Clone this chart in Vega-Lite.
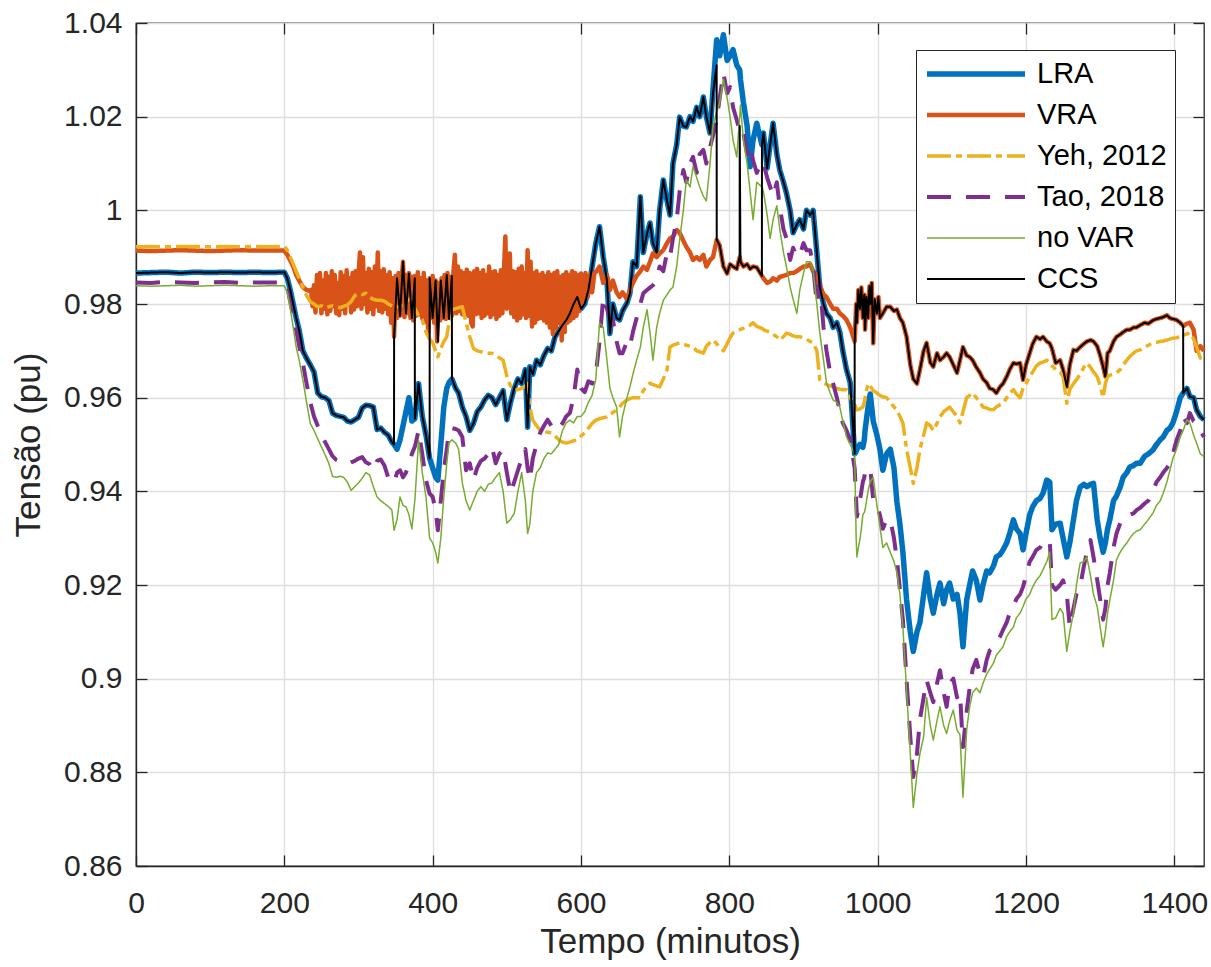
{
"$schema":"https://vega.github.io/schema/vega-lite/v6.json",
"width":1068,"height":843,
"autosize":{"type":"none"},
"padding":{"left":136,"top":23,"right":7,"bottom":101},
"background":"white",
"config":{
 "font":"Liberation Sans",
 "view":{"stroke":"#262626","strokeWidth":1.3},
 "axis":{"domainColor":"#262626","domainWidth":1.3,"tickColor":"#262626","tickWidth":1.3,"tickSize":-11,"labelColor":"#262626","labelFontSize":30,"labelFont":"Liberation Sans","labelFlush":false,"titleColor":"#262626","titleFontSize":35,"titleFont":"Liberation Sans","titleFontWeight":"normal","gridColor":"#dedede","gridWidth":1.3}
},
"datasets":{
"main":[
{"t":0,"L":0.9866,"Y":0.9922,"T":0.9846,"N":0.9839,"C":0.9866},
{"t":20,"L":0.9867,"Y":0.9923,"T":0.9845,"N":0.9838,"C":0.9867},
{"t":40,"L":0.9868,"Y":0.9922,"T":0.9847,"N":0.9839,"C":0.9868},
{"t":60,"L":0.9866,"Y":0.9923,"T":0.9846,"N":0.9840,"C":0.9866},
{"t":80,"L":0.9868,"Y":0.9923,"T":0.9845,"N":0.9838,"C":0.9868},
{"t":100,"L":0.9867,"Y":0.9922,"T":0.9846,"N":0.9839,"C":0.9867},
{"t":120,"L":0.9868,"Y":0.9923,"T":0.9847,"N":0.9840,"C":0.9868},
{"t":140,"L":0.9867,"Y":0.9922,"T":0.9845,"N":0.9839,"C":0.9867},
{"t":160,"L":0.9868,"Y":0.9923,"T":0.9846,"N":0.9838,"C":0.9868},
{"t":180,"L":0.9867,"Y":0.9922,"T":0.9846,"N":0.9839,"C":0.9867},
{"t":200,"L":0.9868,"Y":0.9923,"T":0.9846,"N":0.9839,"C":0.9868},
{"t":204,"L":0.9855,"Y":0.9915,"T":0.9835,"N":0.9825,"C":0.9855},
{"t":208,"L":0.9830,"Y":0.9900,"T":0.9805,"N":0.9790,"C":0.9830},
{"t":212,"L":0.9800,"Y":0.9885,"T":0.9775,"N":0.9750,"C":0.9800},
{"t":216,"L":0.9770,"Y":0.9870,"T":0.9744,"N":0.9708,"C":0.9770},
{"t":220,"L":0.9744,"Y":0.9855,"T":0.9710,"N":0.9680,"C":0.9744},
{"t":225,"L":0.9700,"Y":0.9835,"T":0.9674,"N":0.9638,"C":0.9700},
{"t":230,"L":0.9684,"Y":0.9818,"T":0.9630,"N":0.9590,"C":0.9684},
{"t":235,"L":0.9670,"Y":0.9805,"T":0.9590,"N":0.9545,"C":0.9670},
{"t":240,"L":0.9655,"Y":0.9800,"T":0.9560,"N":0.9530,"C":0.9655},
{"t":245,"L":0.9610,"Y":0.9794,"T":0.9540,"N":0.9512,"C":0.9610},
{"t":250,"L":0.9602,"Y":0.9796,"T":0.9522,"N":0.9495,"C":0.9602},
{"t":255,"L":0.9600,"Y":0.9792,"T":0.9505,"N":0.9478,"C":0.9600},
{"t":260,"L":0.9594,"Y":0.9794,"T":0.9490,"N":0.9460,"C":0.9594},
{"t":265,"L":0.9567,"Y":0.9796,"T":0.9475,"N":0.9432,"C":0.9567},
{"t":270,"L":0.9562,"Y":0.9794,"T":0.9467,"N":0.9430,"C":0.9562},
{"t":275,"L":0.9560,"Y":0.9792,"T":0.9464,"N":0.9432,"C":0.9560},
{"t":280,"L":0.9558,"Y":0.9795,"T":0.9462,"N":0.9430,"C":0.9558},
{"t":285,"L":0.9550,"Y":0.9798,"T":0.9458,"N":0.9420,"C":0.9550},
{"t":290,"L":0.9548,"Y":0.9805,"T":0.9462,"N":0.9402,"C":0.9548},
{"t":295,"L":0.9553,"Y":0.9818,"T":0.9465,"N":0.9410,"C":0.9553},
{"t":300,"L":0.9558,"Y":0.9822,"T":0.9470,"N":0.9418,"C":0.9558},
{"t":305,"L":0.9578,"Y":0.9820,"T":0.9473,"N":0.9428,"C":0.9578},
{"t":310,"L":0.9584,"Y":0.9823,"T":0.9462,"N":0.9440,"C":0.9584},
{"t":315,"L":0.9583,"Y":0.9815,"T":0.9458,"N":0.9435,"C":0.9583},
{"t":320,"L":0.9580,"Y":0.9810,"T":0.9445,"N":0.9410,"C":0.9580},
{"t":325,"L":0.9532,"Y":0.9808,"T":0.9465,"N":0.9388,"C":0.9532},
{"t":330,"L":0.9535,"Y":0.9808,"T":0.9468,"N":0.9380,"C":0.9535},
{"t":335,"L":0.9526,"Y":0.9806,"T":0.9455,"N":0.9374,"C":0.9526},
{"t":340,"L":0.9520,"Y":0.9800,"T":0.9430,"N":0.9368,"C":0.9520},
{"t":345,"L":0.9505,"Y":0.9796,"T":0.9420,"N":0.9360,"C":0.9505},
{"t":347.9,"L":0.9500,"Y":0.9794,"T":0.9418,"N":0.9317,"C":0.9500},
{"t":348,"L":0.9500,"Y":0.9794,"T":0.9418,"N":0.9317,"C":0.9730},
{"t":352,"L":0.9490,"Y":0.9794,"T":0.9440,"N":0.9340,"C":0.9855},
{"t":356,"L":0.9510,"Y":0.9796,"T":0.9445,"N":0.9388,"C":0.9775},
{"t":360,"L":0.9540,"Y":0.9800,"T":0.9430,"N":0.9370,"C":0.9890},
{"t":364,"L":0.9570,"Y":0.9805,"T":0.9440,"N":0.9367,"C":0.9780},
{"t":368,"L":0.9600,"Y":0.9810,"T":0.9460,"N":0.9350,"C":0.9865},
{"t":372,"L":0.9550,"Y":0.9810,"T":0.9480,"N":0.9320,"C":0.9770},
{"t":375.9,"L":0.9555,"Y":0.9790,"T":0.9495,"N":0.9380,"C":0.9855},
{"t":376,"L":0.9555,"Y":0.9790,"T":0.9495,"N":0.9380,"C":0.9555},
{"t":381,"L":0.9630,"Y":0.9775,"T":0.9530,"N":0.9509,"C":0.9630},
{"t":386,"L":0.9560,"Y":0.9766,"T":0.9480,"N":0.9440,"C":0.9560},
{"t":391,"L":0.9520,"Y":0.9740,"T":0.9424,"N":0.9388,"C":0.9520},
{"t":395.9,"L":0.9470,"Y":0.9725,"T":0.9395,"N":0.9300,"C":0.9470},
{"t":396,"L":0.9470,"Y":0.9725,"T":0.9395,"N":0.9300,"C":0.9855},
{"t":400,"L":0.9450,"Y":0.9717,"T":0.9388,"N":0.9290,"C":0.9770},
{"t":404,"L":0.9430,"Y":0.9700,"T":0.9360,"N":0.9270,"C":0.9850},
{"t":407,"L":0.9424,"Y":0.9687,"T":0.9317,"N":0.9247,"C":0.9720},
{"t":411,"L":0.9500,"Y":0.9705,"T":0.9380,"N":0.9300,"C":0.9850},
{"t":415,"L":0.9580,"Y":0.9720,"T":0.9445,"N":0.9388,"C":0.9770},
{"t":419,"L":0.9620,"Y":0.9730,"T":0.9490,"N":0.9460,"C":0.9862},
{"t":422,"L":0.9632,"Y":0.9760,"T":0.9530,"N":0.9503,"C":0.9768},
{"t":425.9,"L":0.9640,"Y":0.9788,"T":0.9535,"N":0.9510,"C":0.9860},
{"t":426,"L":0.9640,"Y":0.9788,"T":0.9535,"N":0.9510,"C":0.9640},
{"t":431,"L":0.9620,"Y":0.9790,"T":0.9533,"N":0.9503,"C":0.9620},
{"t":435,"L":0.9610,"Y":0.9792,"T":0.9530,"N":0.9490,"C":0.9610},
{"t":440,"L":0.9580,"Y":0.9794,"T":0.9516,"N":0.9418,"C":0.9580},
{"t":445,"L":0.9560,"Y":0.9760,"T":0.9445,"N":0.9380,"C":0.9560},
{"t":450,"L":0.9530,"Y":0.9730,"T":0.9460,"N":0.9360,"C":0.9530},
{"t":455,"L":0.9545,"Y":0.9705,"T":0.9424,"N":0.9380,"C":0.9545},
{"t":460,"L":0.9570,"Y":0.9700,"T":0.9450,"N":0.9400,"C":0.9570},
{"t":465,"L":0.9580,"Y":0.9698,"T":0.9465,"N":0.9410,"C":0.9580},
{"t":470,"L":0.9595,"Y":0.9696,"T":0.9470,"N":0.9400,"C":0.9595},
{"t":475,"L":0.9605,"Y":0.9695,"T":0.9480,"N":0.9415,"C":0.9605},
{"t":480,"L":0.9600,"Y":0.9695,"T":0.9495,"N":0.9418,"C":0.9600},
{"t":485,"L":0.9585,"Y":0.9690,"T":0.9460,"N":0.9430,"C":0.9585},
{"t":490,"L":0.9600,"Y":0.9685,"T":0.9480,"N":0.9440,"C":0.9600},
{"t":495,"L":0.9615,"Y":0.9680,"T":0.9488,"N":0.9400,"C":0.9615},
{"t":500,"L":0.9553,"Y":0.9646,"T":0.9440,"N":0.9332,"C":0.9553},
{"t":505,"L":0.9590,"Y":0.9625,"T":0.9396,"N":0.9340,"C":0.9590},
{"t":510,"L":0.9620,"Y":0.9617,"T":0.9420,"N":0.9353,"C":0.9620},
{"t":515,"L":0.9640,"Y":0.9617,"T":0.9445,"N":0.9400,"C":0.9640},
{"t":520,"L":0.9630,"Y":0.9620,"T":0.9470,"N":0.9440,"C":0.9630},
{"t":525,"L":0.9660,"Y":0.9625,"T":0.9490,"N":0.9380,"C":0.9660},
{"t":528,"L":0.9537,"Y":0.9630,"T":0.9450,"N":0.9310,"C":0.9537},
{"t":531,"L":0.9666,"Y":0.9580,"T":0.9424,"N":0.9330,"C":0.9666},
{"t":535,"L":0.9650,"Y":0.9552,"T":0.9470,"N":0.9400,"C":0.9650},
{"t":540,"L":0.9680,"Y":0.9540,"T":0.9500,"N":0.9440,"C":0.9680},
{"t":545,"L":0.9670,"Y":0.9530,"T":0.9525,"N":0.9450,"C":0.9670},
{"t":550,"L":0.9690,"Y":0.9528,"T":0.9540,"N":0.9470,"C":0.9690},
{"t":555,"L":0.9705,"Y":0.9526,"T":0.9553,"N":0.9482,"C":0.9705},
{"t":560,"L":0.9700,"Y":0.9525,"T":0.9540,"N":0.9480,"C":0.9700},
{"t":565,"L":0.9730,"Y":0.9518,"T":0.9530,"N":0.9490,"C":0.9730},
{"t":570,"L":0.9742,"Y":0.9510,"T":0.9533,"N":0.9500,"C":0.9742},
{"t":575,"L":0.9755,"Y":0.9505,"T":0.9545,"N":0.9530,"C":0.9755},
{"t":580,"L":0.9765,"Y":0.9503,"T":0.9560,"N":0.9546,"C":0.9765},
{"t":585,"L":0.9780,"Y":0.9505,"T":0.9567,"N":0.9552,"C":0.9780},
{"t":590,"L":0.9800,"Y":0.9508,"T":0.9600,"N":0.9546,"C":0.9800},
{"t":595,"L":0.9815,"Y":0.9510,"T":0.9660,"N":0.9560,"C":0.9815},
{"t":600,"L":0.9790,"Y":0.9518,"T":0.9620,"N":0.9560,"C":0.9790},
{"t":605,"L":0.9800,"Y":0.9525,"T":0.9612,"N":0.9570,"C":0.9800},
{"t":610,"L":0.9830,"Y":0.9535,"T":0.9635,"N":0.9590,"C":0.9830},
{"t":615,"L":0.9880,"Y":0.9545,"T":0.9630,"N":0.9605,"C":0.9880},
{"t":620,"L":0.9930,"Y":0.9552,"T":0.9650,"N":0.9640,"C":0.9930},
{"t":625,"L":0.9965,"Y":0.9555,"T":0.9720,"N":0.9760,"C":0.9965},
{"t":630,"L":0.9900,"Y":0.9557,"T":0.9815,"N":0.9750,"C":0.9900},
{"t":635,"L":0.9850,"Y":0.9559,"T":0.9790,"N":0.9680,"C":0.9850},
{"t":639,"L":0.9737,"Y":0.9565,"T":0.9770,"N":0.9620,"C":0.9737},
{"t":643,"L":0.9800,"Y":0.9568,"T":0.9766,"N":0.9600,"C":0.9800},
{"t":648,"L":0.9770,"Y":0.9574,"T":0.9720,"N":0.9580,"C":0.9770},
{"t":652,"L":0.9766,"Y":0.9580,"T":0.9695,"N":0.9516,"C":0.9766},
{"t":656,"L":0.9785,"Y":0.9588,"T":0.9695,"N":0.9560,"C":0.9785},
{"t":662,"L":0.9802,"Y":0.9595,"T":0.9720,"N":0.9600,"C":0.9802},
{"t":666,"L":0.9823,"Y":0.9598,"T":0.9710,"N":0.9623,"C":0.9823},
{"t":670,"L":0.9890,"Y":0.9600,"T":0.9740,"N":0.9650,"C":0.9890},
{"t":675,"L":0.9880,"Y":0.9600,"T":0.9770,"N":0.9680,"C":0.9880},
{"t":680,"L":1.0029,"Y":0.9600,"T":0.9800,"N":0.9708,"C":1.0029},
{"t":684,"L":0.9910,"Y":0.9615,"T":0.9823,"N":0.9750,"C":0.9910},
{"t":689,"L":0.9950,"Y":0.9625,"T":0.9830,"N":0.9788,"C":0.9950},
{"t":693,"L":0.9973,"Y":0.9631,"T":0.9835,"N":0.9740,"C":0.9973},
{"t":697,"L":0.9930,"Y":0.9628,"T":0.9840,"N":0.9680,"C":0.9930},
{"t":702,"L":0.9910,"Y":0.9625,"T":0.9850,"N":0.9750,"C":0.9910},
{"t":706,"L":1.0000,"Y":0.9623,"T":0.9880,"N":0.9780,"C":1.0000},
{"t":711,"L":1.0065,"Y":0.9640,"T":0.9870,"N":0.9808,"C":1.0065},
{"t":716,"L":1.0020,"Y":0.9660,"T":0.9910,"N":0.9820,"C":1.0020},
{"t":720,"L":0.9990,"Y":0.9708,"T":0.9900,"N":0.9830,"C":0.9990},
{"t":724,"L":1.0100,"Y":0.9712,"T":0.9940,"N":0.9836,"C":1.0100},
{"t":729,"L":1.0140,"Y":0.9715,"T":0.9980,"N":0.9880,"C":1.0140},
{"t":733,"L":1.0199,"Y":0.9717,"T":1.0040,"N":0.9937,"C":1.0199},
{"t":738,"L":1.0180,"Y":0.9714,"T":1.0086,"N":1.0000,"C":1.0180},
{"t":742,"L":1.0178,"Y":0.9712,"T":1.0060,"N":1.0065,"C":1.0178},
{"t":747,"L":1.0200,"Y":0.9710,"T":1.0100,"N":1.0050,"C":1.0200},
{"t":751,"L":1.0190,"Y":0.9708,"T":1.0114,"N":1.0093,"C":1.0190},
{"t":756,"L":1.0220,"Y":0.9700,"T":1.0080,"N":1.0070,"C":1.0220},
{"t":760,"L":1.0200,"Y":0.9698,"T":1.0120,"N":1.0050,"C":1.0200},
{"t":765,"L":1.0242,"Y":0.9695,"T":1.0129,"N":1.0030,"C":1.0242},
{"t":769,"L":1.0200,"Y":0.9710,"T":1.0100,"N":1.0020,"C":1.0200},
{"t":774,"L":1.0165,"Y":0.9718,"T":1.0135,"N":1.0100,"C":1.0165},
{"t":778,"L":1.0260,"Y":0.9723,"T":1.0160,"N":1.0180,"C":1.0250},
{"t":782.9,"L":1.0364,"Y":0.9715,"T":1.0193,"N":1.0210,"C":1.0310},
{"t":783,"L":1.0364,"Y":0.9715,"T":1.0193,"N":1.0210,"C":0.9937},
{"t":787,"L":1.0330,"Y":0.9708,"T":1.0240,"N":1.0230,"C":0.9925},
{"t":792,"L":1.0375,"Y":0.9700,"T":1.0293,"N":1.0280,"C":0.9880},
{"t":797,"L":1.0320,"Y":0.9715,"T":1.0250,"N":1.0240,"C":0.9865},
{"t":801,"L":1.0330,"Y":0.9728,"T":1.0263,"N":1.0200,"C":0.9885},
{"t":805,"L":1.0343,"Y":0.9738,"T":1.0220,"N":1.0150,"C":0.9880},
{"t":810,"L":1.0310,"Y":0.9742,"T":1.0193,"N":1.0114,"C":0.9875},
{"t":813.9,"L":1.0300,"Y":0.9745,"T":1.0170,"N":1.0200,"C":0.9900},
{"t":814,"L":1.0300,"Y":0.9745,"T":1.0170,"N":1.0200,"C":1.0180},
{"t":815,"L":1.0280,"Y":0.9746,"T":1.0160,"N":1.0225,"C":0.9890},
{"t":819,"L":1.0230,"Y":0.9748,"T":1.0165,"N":1.0150,"C":0.9880},
{"t":824,"L":1.0180,"Y":0.9752,"T":1.0120,"N":1.0100,"C":0.9885},
{"t":828,"L":1.0093,"Y":0.9755,"T":1.0140,"N":1.0040,"C":0.9875},
{"t":832,"L":1.0150,"Y":0.9760,"T":1.0107,"N":0.9980,"C":0.9880},
{"t":837,"L":1.0186,"Y":0.9752,"T":1.0080,"N":1.0060,"C":0.9878},
{"t":843.9,"L":1.0140,"Y":0.9748,"T":1.0105,"N":1.0050,"C":0.9860},
{"t":844,"L":1.0140,"Y":0.9748,"T":1.0105,"N":1.0050,"C":1.0140},
{"t":846,"L":1.0165,"Y":0.9745,"T":1.0100,"N":1.0040,"C":1.0165},
{"t":851,"L":1.0090,"Y":0.9742,"T":1.0070,"N":0.9990,"C":1.0090},
{"t":855,"L":1.0140,"Y":0.9740,"T":1.0050,"N":0.9940,"C":1.0140},
{"t":859,"L":1.0186,"Y":0.9735,"T":1.0030,"N":0.9980,"C":1.0186},
{"t":864,"L":1.0120,"Y":0.9730,"T":1.0060,"N":1.0010,"C":1.0120},
{"t":868,"L":1.0086,"Y":0.9723,"T":1.0007,"N":0.9960,"C":1.0086},
{"t":873,"L":1.0060,"Y":0.9730,"T":0.9960,"N":0.9910,"C":1.0060},
{"t":877,"L":1.0037,"Y":0.9738,"T":0.9940,"N":0.9880,"C":1.0037},
{"t":882,"L":1.0000,"Y":0.9735,"T":0.9894,"N":0.9836,"C":1.0000},
{"t":886,"L":0.9952,"Y":0.9732,"T":0.9920,"N":0.9810,"C":0.9952},
{"t":891,"L":0.9970,"Y":0.9730,"T":0.9900,"N":0.9780,"C":0.9970},
{"t":895,"L":0.9980,"Y":0.9730,"T":0.9905,"N":0.9830,"C":0.9980},
{"t":900,"L":0.9960,"Y":0.9728,"T":0.9930,"N":0.9866,"C":0.9960},
{"t":904,"L":1.0000,"Y":0.9725,"T":0.9915,"N":0.9890,"C":1.0000},
{"t":909,"L":0.9990,"Y":0.9720,"T":0.9915,"N":0.9890,"C":0.9990},
{"t":913,"L":1.0000,"Y":0.9717,"T":0.9880,"N":0.9870,"C":1.0000},
{"t":918,"L":0.9910,"Y":0.9700,"T":0.9800,"N":0.9800,"C":0.9910},
{"t":922,"L":0.9836,"Y":0.9638,"T":0.9845,"N":0.9738,"C":0.9836},
{"t":927,"L":0.9800,"Y":0.9632,"T":0.9750,"N":0.9680,"C":0.9800},
{"t":931,"L":0.9780,"Y":0.9628,"T":0.9700,"N":0.9632,"C":0.9780},
{"t":936,"L":0.9770,"Y":0.9625,"T":0.9653,"N":0.9610,"C":0.9770},
{"t":940,"L":0.9750,"Y":0.9623,"T":0.9630,"N":0.9595,"C":0.9750},
{"t":945,"L":0.9760,"Y":0.9620,"T":0.9600,"N":0.9590,"C":0.9760},
{"t":949,"L":0.9740,"Y":0.9618,"T":0.9570,"N":0.9580,"C":0.9740},
{"t":953,"L":0.9700,"Y":0.9617,"T":0.9546,"N":0.9550,"C":0.9700},
{"t":958,"L":0.9660,"Y":0.9617,"T":0.9530,"N":0.9516,"C":0.9660},
{"t":963,"L":0.9632,"Y":0.9600,"T":0.9510,"N":0.9500,"C":0.9632},
{"t":968.9,"L":0.9480,"Y":0.9585,"T":0.9450,"N":0.9480,"C":0.9480},
{"t":969,"L":0.9480,"Y":0.9585,"T":0.9450,"N":0.9480,"C":0.9720},
{"t":971,"L":0.9485,"Y":0.9578,"T":0.9380,"N":0.9300,"C":0.9800},
{"t":972,"L":0.9490,"Y":0.9574,"T":0.9346,"N":0.9260,"C":0.9760},
{"t":974,"L":0.9495,"Y":0.9575,"T":0.9360,"N":0.9280,"C":0.9830},
{"t":976,"L":0.9500,"Y":0.9576,"T":0.9380,"N":0.9296,"C":0.9790},
{"t":978,"L":0.9497,"Y":0.9578,"T":0.9400,"N":0.9320,"C":0.9835},
{"t":980,"L":0.9494,"Y":0.9580,"T":0.9420,"N":0.9350,"C":0.9770},
{"t":982,"L":0.9510,"Y":0.9590,"T":0.9430,"N":0.9355,"C":0.9820},
{"t":983,"L":0.9530,"Y":0.9600,"T":0.9440,"N":0.9360,"C":0.9745},
{"t":985,"L":0.9555,"Y":0.9615,"T":0.9443,"N":0.9380,"C":0.9815},
{"t":987,"L":0.9580,"Y":0.9630,"T":0.9445,"N":0.9400,"C":0.9770},
{"t":989,"L":0.9600,"Y":0.9627,"T":0.9448,"N":0.9415,"C":0.9838},
{"t":990,"L":0.9608,"Y":0.9625,"T":0.9450,"N":0.9420,"C":0.9800},
{"t":992,"L":0.9580,"Y":0.9620,"T":0.9415,"N":0.9425,"C":0.9845},
{"t":994,"L":0.9550,"Y":0.9615,"T":0.9382,"N":0.9430,"C":0.9716},
{"t":996,"L":0.9538,"Y":0.9613,"T":0.9378,"N":0.9405,"C":0.9810},
{"t":999,"L":0.9520,"Y":0.9610,"T":0.9370,"N":0.9370,"C":0.9780},
{"t":1001,"L":0.9505,"Y":0.9607,"T":0.9360,"N":0.9348,"C":0.9815},
{"t":1003,"L":0.9490,"Y":0.9605,"T":0.9350,"N":0.9325,"C":0.9770},
{"t":1007,"L":0.9445,"Y":0.9602,"T":0.9320,"N":0.9280,"C":0.9780},
{"t":1012,"L":0.9480,"Y":0.9600,"T":0.9340,"N":0.9290,"C":0.9794},
{"t":1017,"L":0.9490,"Y":0.9590,"T":0.9340,"N":0.9270,"C":0.9794},
{"t":1022,"L":0.9450,"Y":0.9580,"T":0.9300,"N":0.9250,"C":0.9785},
{"t":1026,"L":0.9377,"Y":0.9574,"T":0.9254,"N":0.9226,"C":0.9788},
{"t":1030,"L":0.9330,"Y":0.9560,"T":0.9190,"N":0.9180,"C":0.9770},
{"t":1034,"L":0.9270,"Y":0.9546,"T":0.9126,"N":0.9110,"C":0.9760},
{"t":1039,"L":0.9168,"Y":0.9490,"T":0.8997,"N":0.8975,"C":0.9730},
{"t":1044,"L":0.9100,"Y":0.9450,"T":0.8876,"N":0.8840,"C":0.9670},
{"t":1048,"L":0.9058,"Y":0.9417,"T":0.8790,"N":0.8725,"C":0.9640},
{"t":1053,"L":0.9100,"Y":0.9450,"T":0.8840,"N":0.8797,"C":0.9630},
{"t":1057,"L":0.9120,"Y":0.9490,"T":0.8913,"N":0.8840,"C":0.9660},
{"t":1062,"L":0.9180,"Y":0.9520,"T":0.8960,"N":0.8876,"C":0.9700},
{"t":1066,"L":0.9226,"Y":0.9546,"T":0.8997,"N":0.8960,"C":0.9717},
{"t":1071,"L":0.9170,"Y":0.9540,"T":0.8970,"N":0.8900,"C":0.9675},
{"t":1075,"L":0.9140,"Y":0.9530,"T":0.8950,"N":0.8869,"C":0.9666},
{"t":1080,"L":0.9180,"Y":0.9545,"T":0.8990,"N":0.8910,"C":0.9695},
{"t":1084,"L":0.9204,"Y":0.9559,"T":0.9018,"N":0.8940,"C":0.9680},
{"t":1089,"L":0.9160,"Y":0.9570,"T":0.8970,"N":0.8900,"C":0.9687},
{"t":1093,"L":0.9190,"Y":0.9575,"T":0.8940,"N":0.8883,"C":0.9695},
{"t":1097,"L":0.9204,"Y":0.9580,"T":0.8990,"N":0.8910,"C":0.9687},
{"t":1102,"L":0.9170,"Y":0.9570,"T":0.9000,"N":0.8933,"C":0.9670},
{"t":1107,"L":0.9180,"Y":0.9560,"T":0.8960,"N":0.8890,"C":0.9653},
{"t":1111,"L":0.9140,"Y":0.9546,"T":0.8970,"N":0.8880,"C":0.9680},
{"t":1115,"L":0.9068,"Y":0.9570,"T":0.8854,"N":0.8747,"C":0.9708},
{"t":1120,"L":0.9168,"Y":0.9600,"T":0.8930,"N":0.8890,"C":0.9690},
{"t":1124,"L":0.9200,"Y":0.9605,"T":0.8980,"N":0.8940,"C":0.9687},
{"t":1128,"L":0.9230,"Y":0.9610,"T":0.9020,"N":0.8970,"C":0.9680},
{"t":1133,"L":0.9210,"Y":0.9600,"T":0.9040,"N":0.8980,"C":0.9665},
{"t":1138,"L":0.9168,"Y":0.9590,"T":0.9010,"N":0.8970,"C":0.9653},
{"t":1142,"L":0.9200,"Y":0.9580,"T":0.9003,"N":0.8990,"C":0.9640},
{"t":1147,"L":0.9230,"Y":0.9578,"T":0.9040,"N":0.9010,"C":0.9632},
{"t":1151,"L":0.9226,"Y":0.9575,"T":0.9060,"N":0.9020,"C":0.9620},
{"t":1156,"L":0.9240,"Y":0.9574,"T":0.9068,"N":0.9033,"C":0.9617},
{"t":1160,"L":0.9260,"Y":0.9580,"T":0.9080,"N":0.9050,"C":0.9610},
{"t":1165,"L":0.9265,"Y":0.9585,"T":0.9090,"N":0.9060,"C":0.9623},
{"t":1169,"L":0.9275,"Y":0.9588,"T":0.9104,"N":0.9068,"C":0.9630},
{"t":1174,"L":0.9290,"Y":0.9600,"T":0.9120,"N":0.9090,"C":0.9645},
{"t":1178,"L":0.9310,"Y":0.9610,"T":0.9140,"N":0.9100,"C":0.9660},
{"t":1183,"L":0.9339,"Y":0.9617,"T":0.9154,"N":0.9110,"C":0.9674},
{"t":1187,"L":0.9320,"Y":0.9608,"T":0.9170,"N":0.9130,"C":0.9672},
{"t":1192,"L":0.9310,"Y":0.9600,"T":0.9180,"N":0.9140,"C":0.9674},
{"t":1196,"L":0.9275,"Y":0.9620,"T":0.9196,"N":0.9154,"C":0.9638},
{"t":1200,"L":0.9310,"Y":0.9630,"T":0.9220,"N":0.9170,"C":0.9670},
{"t":1205,"L":0.9350,"Y":0.9645,"T":0.9250,"N":0.9180,"C":0.9695},
{"t":1209,"L":0.9367,"Y":0.9655,"T":0.9260,"N":0.9196,"C":0.9715},
{"t":1214,"L":0.9380,"Y":0.9668,"T":0.9275,"N":0.9210,"C":0.9730},
{"t":1219,"L":0.9385,"Y":0.9674,"T":0.9280,"N":0.9220,"C":0.9725},
{"t":1223,"L":0.9396,"Y":0.9676,"T":0.9290,"N":0.9233,"C":0.9730},
{"t":1228,"L":0.9424,"Y":0.9680,"T":0.9293,"N":0.9250,"C":0.9720},
{"t":1232,"L":0.9420,"Y":0.9675,"T":0.9296,"N":0.9270,"C":0.9716},
{"t":1235,"L":0.9318,"Y":0.9668,"T":0.9200,"N":0.9126,"C":0.9705},
{"t":1240,"L":0.9330,"Y":0.9660,"T":0.9190,"N":0.9130,"C":0.9674},
{"t":1246,"L":0.9332,"Y":0.9655,"T":0.9200,"N":0.9150,"C":0.9680},
{"t":1250,"L":0.9300,"Y":0.9645,"T":0.9210,"N":0.9140,"C":0.9660},
{"t":1255,"L":0.9260,"Y":0.9588,"T":0.9180,"N":0.9058,"C":0.9623},
{"t":1259,"L":0.9290,"Y":0.9617,"T":0.9110,"N":0.9100,"C":0.9670},
{"t":1264,"L":0.9339,"Y":0.9630,"T":0.9150,"N":0.9140,"C":0.9702},
{"t":1268,"L":0.9380,"Y":0.9638,"T":0.9180,"N":0.9200,"C":0.9700},
{"t":1273,"L":0.9409,"Y":0.9650,"T":0.9196,"N":0.9247,"C":0.9708},
{"t":1278,"L":0.9415,"Y":0.9665,"T":0.9240,"N":0.9250,"C":0.9715},
{"t":1282,"L":0.9410,"Y":0.9674,"T":0.9270,"N":0.9260,"C":0.9720},
{"t":1287,"L":0.9415,"Y":0.9665,"T":0.9296,"N":0.9220,"C":0.9723},
{"t":1291,"L":0.9417,"Y":0.9655,"T":0.9260,"N":0.9180,"C":0.9720},
{"t":1296,"L":0.9339,"Y":0.9645,"T":0.9211,"N":0.9154,"C":0.9710},
{"t":1300,"L":0.9300,"Y":0.9625,"T":0.9170,"N":0.9110,"C":0.9690},
{"t":1304,"L":0.9270,"Y":0.9600,"T":0.9126,"N":0.9068,"C":0.9666},
{"t":1307,"L":0.9290,"Y":0.9630,"T":0.9150,"N":0.9100,"C":0.9645},
{"t":1310,"L":0.9320,"Y":0.9645,"T":0.9200,"N":0.9140,"C":0.9695},
{"t":1313,"L":0.9339,"Y":0.9648,"T":0.9226,"N":0.9168,"C":0.9700},
{"t":1318,"L":0.9380,"Y":0.9650,"T":0.9280,"N":0.9210,"C":0.9720},
{"t":1322,"L":0.9390,"Y":0.9653,"T":0.9310,"N":0.9254,"C":0.9730},
{"t":1327,"L":0.9409,"Y":0.9660,"T":0.9332,"N":0.9270,"C":0.9735},
{"t":1331,"L":0.9430,"Y":0.9670,"T":0.9340,"N":0.9280,"C":0.9740},
{"t":1336,"L":0.9440,"Y":0.9680,"T":0.9340,"N":0.9290,"C":0.9745},
{"t":1340,"L":0.9452,"Y":0.9688,"T":0.9350,"N":0.9300,"C":0.9745},
{"t":1345,"L":0.9455,"Y":0.9695,"T":0.9353,"N":0.9310,"C":0.9750},
{"t":1349,"L":0.9460,"Y":0.9700,"T":0.9360,"N":0.9315,"C":0.9750},
{"t":1354,"L":0.9460,"Y":0.9702,"T":0.9365,"N":0.9318,"C":0.9755},
{"t":1360,"L":0.9475,"Y":0.9708,"T":0.9374,"N":0.9330,"C":0.9760},
{"t":1365,"L":0.9480,"Y":0.9712,"T":0.9380,"N":0.9340,"C":0.9758},
{"t":1371,"L":0.9488,"Y":0.9717,"T":0.9400,"N":0.9353,"C":0.9765},
{"t":1376,"L":0.9500,"Y":0.9718,"T":0.9420,"N":0.9370,"C":0.9768},
{"t":1381,"L":0.9510,"Y":0.9720,"T":0.9430,"N":0.9380,"C":0.9770},
{"t":1385,"L":0.9516,"Y":0.9721,"T":0.9440,"N":0.9396,"C":0.9772},
{"t":1390,"L":0.9530,"Y":0.9723,"T":0.9450,"N":0.9420,"C":0.9776},
{"t":1394,"L":0.9535,"Y":0.9725,"T":0.9460,"N":0.9445,"C":0.9770},
{"t":1398,"L":0.9546,"Y":0.9727,"T":0.9480,"N":0.9470,"C":0.9768},
{"t":1403,"L":0.9570,"Y":0.9728,"T":0.9509,"N":0.9490,"C":0.9766},
{"t":1408,"L":0.9600,"Y":0.9730,"T":0.9530,"N":0.9516,"C":0.9760},
{"t":1411.9,"L":0.9610,"Y":0.9733,"T":0.9559,"N":0.9530,"C":0.9753},
{"t":1412,"L":0.9610,"Y":0.9733,"T":0.9559,"N":0.9530,"C":0.9610},
{"t":1417,"L":0.9620,"Y":0.9736,"T":0.9546,"N":0.9553,"C":0.9620},
{"t":1421,"L":0.9602,"Y":0.9738,"T":0.9567,"N":0.9546,"C":0.9602},
{"t":1426,"L":0.9600,"Y":0.9725,"T":0.9550,"N":0.9520,"C":0.9600},
{"t":1430,"L":0.9574,"Y":0.9708,"T":0.9546,"N":0.9503,"C":0.9574},
{"t":1435,"L":0.9560,"Y":0.9685,"T":0.9530,"N":0.9480,"C":0.9560},
{"t":1440,"L":0.9553,"Y":0.9680,"T":0.9516,"N":0.9474,"C":0.9553}
],
"vra":[
{"t":0,"V":0.9914},{"t":20,"V":0.9913},{"t":40,"V":0.9914},{"t":60,"V":0.9915},{"t":80,"V":0.9914},{"t":100,"V":0.9913},{"t":120,"V":0.9914},{"t":140,"V":0.9915},{"t":160,"V":0.9914},{"t":180,"V":0.9914},{"t":200,"V":0.9914},
{"t":204,"V":0.9905},{"t":208,"V":0.9893},{"t":212,"V":0.9880},{"t":216,"V":0.9862},{"t":220,"V":0.9850},{"t":225,"V":0.9836},{"t":230,"V":0.9830},{"t":234,"V":0.9828},
{"t":236,"V":0.9830},{"t":238,"V":0.9795},{"t":240,"V":0.9840},{"t":242,"V":0.9782},{"t":244,"V":0.9862},{"t":246,"V":0.9800},{"t":248,"V":0.9866},{"t":250,"V":0.9780},{"t":252,"V":0.9850},{"t":254,"V":0.9790},{"t":256,"V":0.9866},{"t":258,"V":0.9778},{"t":260,"V":0.9858},{"t":262,"V":0.9785},{"t":264,"V":0.9870},{"t":266,"V":0.9795},{"t":268,"V":0.9862},{"t":270,"V":0.9780},{"t":272,"V":0.9845},{"t":274,"V":0.9776},{"t":276,"V":0.9868},{"t":278,"V":0.9790},{"t":280,"V":0.9860},{"t":282,"V":0.9780},{"t":284,"V":0.9872},{"t":286,"V":0.9800},{"t":288,"V":0.9855},{"t":290,"V":0.9782},{"t":292,"V":0.9866},{"t":294,"V":0.9788},{"t":296,"V":0.9870},{"t":298,"V":0.9795},{"t":300,"V":0.9862},{"t":302,"V":0.9910},{"t":304,"V":0.9790},{"t":306,"V":0.9900},{"t":308,"V":0.9800},{"t":310,"V":0.9866},{"t":312,"V":0.9782},{"t":314,"V":0.9875},{"t":316,"V":0.9790},{"t":318,"V":0.9868},{"t":320,"V":0.9778},{"t":322,"V":0.9880},{"t":324,"V":0.9795},{"t":326,"V":0.9910},{"t":328,"V":0.9785},{"t":330,"V":0.9870},{"t":332,"V":0.9782},{"t":334,"V":0.9874},{"t":336,"V":0.9790},{"t":338,"V":0.9862},{"t":340,"V":0.9778},{"t":342,"V":0.9868},{"t":344,"V":0.9760},{"t":346,"V":0.9855},{"t":348,"V":0.9730},{"t":350,"V":0.9860},{"t":352,"V":0.9770},{"t":354,"V":0.9866},{"t":356,"V":0.9775},{"t":358,"V":0.9850},{"t":360,"V":0.9890},{"t":362,"V":0.9772},{"t":364,"V":0.9862},{"t":366,"V":0.9780},{"t":368,"V":0.9866},{"t":370,"V":0.9770},{"t":372,"V":0.9858},{"t":374,"V":0.9765},{"t":376,"V":0.9860},{"t":378,"V":0.9775},{"t":380,"V":0.9868},{"t":382,"V":0.9778},{"t":384,"V":0.9855},{"t":386,"V":0.9770},{"t":388,"V":0.9866},{"t":390,"V":0.9762},{"t":392,"V":0.9850},{"t":394,"V":0.9740},{"t":396,"V":0.9855},{"t":398,"V":0.9770},{"t":400,"V":0.9860},{"t":402,"V":0.9760},{"t":404,"V":0.9850},{"t":406,"V":0.9720},{"t":408,"V":0.9845},{"t":410,"V":0.9765},{"t":412,"V":0.9855},{"t":414,"V":0.9770},{"t":416,"V":0.9862},{"t":418,"V":0.9768},{"t":420,"V":0.9866},{"t":422,"V":0.9772},{"t":424,"V":0.9858},{"t":426,"V":0.9775},{"t":428,"V":0.9868},{"t":430,"V":0.9905},{"t":432,"V":0.9780},{"t":434,"V":0.9880},{"t":436,"V":0.9785},{"t":438,"V":0.9870},{"t":440,"V":0.9778},{"t":442,"V":0.9866},{"t":444,"V":0.9782},{"t":446,"V":0.9873},{"t":448,"V":0.9775},{"t":450,"V":0.9866},{"t":452,"V":0.9760},{"t":454,"V":0.9752},{"t":456,"V":0.9870},{"t":458,"V":0.9778},{"t":460,"V":0.9875},{"t":462,"V":0.9780},{"t":464,"V":0.9866},{"t":466,"V":0.9770},{"t":468,"V":0.9872},{"t":470,"V":0.9775},{"t":472,"V":0.9862},{"t":474,"V":0.9780},{"t":476,"V":0.9880},{"t":478,"V":0.9772},{"t":480,"V":0.9868},{"t":482,"V":0.9778},{"t":484,"V":0.9870},{"t":486,"V":0.9768},{"t":488,"V":0.9862},{"t":490,"V":0.9775},{"t":492,"V":0.9872},{"t":494,"V":0.9780},{"t":496,"V":0.9866},{"t":498,"V":0.9944},{"t":500,"V":0.9790},{"t":502,"V":0.9880},{"t":504,"V":0.9908},{"t":506,"V":0.9780},{"t":508,"V":0.9870},{"t":510,"V":0.9772},{"t":512,"V":0.9868},{"t":514,"V":0.9765},{"t":516,"V":0.9875},{"t":518,"V":0.9770},{"t":520,"V":0.9880},{"t":522,"V":0.9778},{"t":524,"V":0.9866},{"t":526,"V":0.9770},{"t":528,"V":0.9915},{"t":530,"V":0.9775},{"t":532,"V":0.9890},{"t":534,"V":0.9752},{"t":536,"V":0.9866},{"t":538,"V":0.9760},{"t":540,"V":0.9870},{"t":542,"V":0.9768},{"t":544,"V":0.9862},{"t":546,"V":0.9770},{"t":548,"V":0.9866},{"t":550,"V":0.9765},{"t":552,"V":0.9860},{"t":554,"V":0.9760},{"t":556,"V":0.9868},{"t":558,"V":0.9750},{"t":560,"V":0.9862},{"t":562,"V":0.9736},{"t":564,"V":0.9866},{"t":566,"V":0.9748},{"t":568,"V":0.9870},{"t":570,"V":0.9760},{"t":572,"V":0.9858},{"t":574,"V":0.9722},{"t":576,"V":0.9862},{"t":578,"V":0.9740},{"t":580,"V":0.9868},{"t":582,"V":0.9760},{"t":584,"V":0.9862},{"t":586,"V":0.9765},{"t":588,"V":0.9870},{"t":590,"V":0.9770},{"t":592,"V":0.9866},{"t":594,"V":0.9775},{"t":596,"V":0.9862},{"t":598,"V":0.9785},{"t":600,"V":0.9865},
{"t":603,"V":0.9800},{"t":606,"V":0.9866},{"t":609,"V":0.9815},{"t":612,"V":0.9862},{"t":615,"V":0.9825},{"t":618,"V":0.9866},{"t":621,"V":0.9870},{"t":625,"V":0.9880},{"t":630,"V":0.9845},{"t":635,"V":0.9862},{"t":639,"V":0.9830},{"t":643,"V":0.9850},{"t":648,"V":0.9825},{"t":652,"V":0.9815},{"t":656,"V":0.9825},{"t":662,"V":0.9810},{"t":666,"V":0.9830},{"t":670,"V":0.9845},{"t":675,"V":0.9860},{"t":680,"V":0.9870},{"t":684,"V":0.9880},{"t":689,"V":0.9873},{"t":693,"V":0.9890},{"t":697,"V":0.9908},{"t":702,"V":0.9900},{"t":706,"V":0.9908},{"t":711,"V":0.9915},{"t":716,"V":0.9930},{"t":720,"V":0.9940},{"t":724,"V":0.9944},{"t":729,"V":0.9958},{"t":733,"V":0.9952},{"t":738,"V":0.9935},{"t":742,"V":0.9922},{"t":747,"V":0.9910},{"t":751,"V":0.9894},{"t":756,"V":0.9900},{"t":760,"V":0.9894},{"t":765,"V":0.9905},{"t":769,"V":0.9880},{"t":774,"V":0.9894},{"t":778,"V":0.9900},{"t":783,"V":0.9937},{"t":787,"V":0.9925},{"t":792,"V":0.9880},{"t":797,"V":0.9865},{"t":801,"V":0.9885},{"t":805,"V":0.9880},{"t":810,"V":0.9875},{"t":814,"V":0.9900},{"t":815,"V":0.9890},{"t":819,"V":0.9880},{"t":824,"V":0.9885},{"t":828,"V":0.9875},{"t":832,"V":0.9880},{"t":837,"V":0.9878},{"t":844,"V":0.9860},{"t":846,"V":0.9855},{"t":851,"V":0.9845},{"t":855,"V":0.9848},{"t":859,"V":0.9855},{"t":864,"V":0.9850},{"t":868,"V":0.9858},{"t":873,"V":0.9860},{"t":877,"V":0.9862},{"t":882,"V":0.9866},{"t":886,"V":0.9866},{"t":891,"V":0.9870},{"t":895,"V":0.9875},{"t":900,"V":0.9880},{"t":904,"V":0.9880},{"t":909,"V":0.9885},{"t":913,"V":0.9870},{"t":918,"V":0.9858},{"t":922,"V":0.9840},{"t":927,"V":0.9820},{"t":931,"V":0.9815},{"t":936,"V":0.9800},{"t":940,"V":0.9790},{"t":945,"V":0.9790},{"t":949,"V":0.9780},{"t":953,"V":0.9775},{"t":958,"V":0.9766},{"t":963,"V":0.9750},{"t":969,"V":0.9720},
{"t":971,"V":0.9800},{"t":972,"V":0.9760},{"t":974,"V":0.9830},{"t":976,"V":0.9790},{"t":978,"V":0.9835},{"t":980,"V":0.9770},{"t":982,"V":0.9820},{"t":983,"V":0.9745},{"t":985,"V":0.9815},{"t":987,"V":0.9770},{"t":989,"V":0.9838},{"t":990,"V":0.9800},{"t":992,"V":0.9845},{"t":994,"V":0.9716},{"t":996,"V":0.9810},{"t":999,"V":0.9780},{"t":1001,"V":0.9815},{"t":1003,"V":0.9770},
{"t":1007,"V":0.9780},{"t":1012,"V":0.9794},{"t":1017,"V":0.9794},{"t":1022,"V":0.9785},{"t":1026,"V":0.9788},{"t":1030,"V":0.9770},{"t":1034,"V":0.9760},{"t":1039,"V":0.9730},{"t":1044,"V":0.9670},{"t":1048,"V":0.9640},{"t":1053,"V":0.9630},{"t":1057,"V":0.9660},{"t":1062,"V":0.9700},{"t":1066,"V":0.9717},{"t":1071,"V":0.9675},{"t":1075,"V":0.9666},{"t":1080,"V":0.9695},{"t":1084,"V":0.9680},{"t":1089,"V":0.9687},{"t":1093,"V":0.9695},{"t":1097,"V":0.9687},{"t":1102,"V":0.9670},{"t":1107,"V":0.9653},{"t":1111,"V":0.9680},{"t":1115,"V":0.9708},{"t":1120,"V":0.9690},{"t":1124,"V":0.9687},{"t":1128,"V":0.9680},{"t":1133,"V":0.9665},{"t":1138,"V":0.9653},{"t":1142,"V":0.9640},{"t":1147,"V":0.9632},{"t":1151,"V":0.9620},{"t":1156,"V":0.9617},{"t":1160,"V":0.9610},{"t":1165,"V":0.9623},{"t":1169,"V":0.9630},{"t":1174,"V":0.9645},{"t":1178,"V":0.9660},{"t":1183,"V":0.9674},{"t":1187,"V":0.9672},{"t":1192,"V":0.9674},{"t":1196,"V":0.9638},{"t":1200,"V":0.9670},{"t":1205,"V":0.9695},{"t":1209,"V":0.9715},{"t":1214,"V":0.9730},{"t":1219,"V":0.9725},{"t":1223,"V":0.9730},{"t":1228,"V":0.9720},{"t":1232,"V":0.9716},{"t":1235,"V":0.9705},{"t":1240,"V":0.9674},{"t":1246,"V":0.9680},{"t":1250,"V":0.9660},{"t":1255,"V":0.9623},{"t":1259,"V":0.9670},{"t":1264,"V":0.9702},{"t":1268,"V":0.9700},{"t":1273,"V":0.9708},{"t":1278,"V":0.9715},{"t":1282,"V":0.9720},{"t":1287,"V":0.9723},{"t":1291,"V":0.9720},{"t":1296,"V":0.9710},{"t":1300,"V":0.9690},{"t":1304,"V":0.9666},{"t":1307,"V":0.9645},{"t":1310,"V":0.9695},{"t":1313,"V":0.9700},{"t":1318,"V":0.9720},{"t":1322,"V":0.9730},{"t":1327,"V":0.9735},{"t":1331,"V":0.9740},{"t":1336,"V":0.9745},{"t":1340,"V":0.9745},{"t":1345,"V":0.9750},{"t":1349,"V":0.9750},{"t":1354,"V":0.9755},{"t":1360,"V":0.9760},{"t":1365,"V":0.9758},{"t":1371,"V":0.9765},{"t":1376,"V":0.9768},{"t":1381,"V":0.9770},{"t":1385,"V":0.9772},{"t":1390,"V":0.9776},{"t":1394,"V":0.9770},{"t":1398,"V":0.9768},{"t":1403,"V":0.9766},{"t":1408,"V":0.9760},{"t":1412,"V":0.9753},{"t":1417,"V":0.9758},{"t":1421,"V":0.9760},{"t":1426,"V":0.9745},{"t":1430,"V":0.9700},{"t":1435,"V":0.9710},{"t":1440,"V":0.9700}
]
},
"layer":[
{
"layer":[
 {"data":{"name":"main"},"transform":[{"fold":["L"],"as":["s","v"]}],"mark":{"type":"line","strokeJoin":"round"}},
 {"data":{"name":"vra"},"transform":[{"fold":["V"],"as":["s","v"]}],"mark":{"type":"line","strokeJoin":"round"}},
 {"data":{"name":"main"},"transform":[{"fold":["Y","T","N","C"],"as":["s","v"]}],"mark":{"type":"line","strokeJoin":"round"}}
],
"encoding":{
 "x":{"field":"t","type":"quantitative","scale":{"domain":[0,1440],"nice":false,"zero":false},
      "axis":{"values":[0,200,400,600,800,1000,1200,1400],"format":"d","title":"Tempo (minutos)","labelPadding":33,"titlePadding":6,"grid":true}},
 "y":{"field":"v","type":"quantitative","scale":{"domain":[0.86,1.04],"nice":false,"zero":false},
      "axis":{"values":[0.86,0.88,0.9,0.92,0.94,0.96,0.98,1,1.02,1.04],"format":".2~f","title":"Tensão (pu)","labelPadding":25,"titlePadding":17,"grid":true}},
 "color":{"field":"s","type":"nominal",
   "scale":{"domain":["L","V","Y","T","N","C"],"range":["#0072BD","#D95319","#EDB120","#7E2F8E","#77AC30","#000000"]},
   "legend":{"title":null,"orient":"none","legendX":780,"legendY":27,"symbolType":"stroke","symbolSize":9604,"labelFontSize":29,"labelColor":"#000000","labelFont":"Liberation Sans","strokeColor":"#262626","fillColor":"white","padding":8,"clipHeight":32,"rowPadding":9,"labelOffset":9,
     "labelExpr":"datum.label=='L'?'LRA':datum.label=='V'?'VRA':datum.label=='Y'?'Yeh, 2012':datum.label=='T'?'Tao, 2018':datum.label=='N'?'no VAR':'CCS'"}},
 "strokeDash":{"field":"s","type":"nominal","scale":{"domain":["L","V","Y","T","N","C"],"range":[[1,0],[1,0],[24,5,6,5],[24,15],[1,0],[1,0]]}},
 "strokeWidth":{"field":"s","type":"nominal","scale":{"type":"ordinal","domain":["L","V","Y","T","N","C"],"range":[5.5,4.5,3.5,4,1.5,2]}}
}
},
{
"data":{"values":[{"t":0,"v":0.86},{"t":1440,"v":1.04}]},
"mark":{"type":"point","opacity":0},
"encoding":{
 "x":{"field":"t","type":"quantitative","scale":{"domain":[0,1440],"nice":false,"zero":false},"axis":{"values":[0,200,400,600,800,1000,1200,1400],"labels":false,"title":null,"grid":false,"domain":false}},
 "y":{"field":"v","type":"quantitative","scale":{"domain":[0.86,1.04],"nice":false,"zero":false},"axis":{"values":[0.86,0.88,0.9,0.92,0.94,0.96,0.98,1,1.02,1.04],"labels":false,"title":null,"grid":false,"domain":false}}
}
}
],
"resolve":{"axis":{"x":"independent","y":"independent"}}
}
